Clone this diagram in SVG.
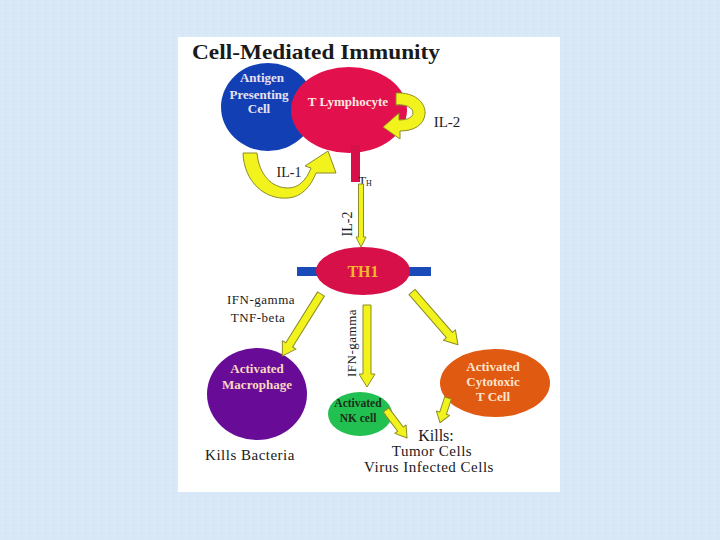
<svg xmlns="http://www.w3.org/2000/svg" width="720" height="540" viewBox="0 0 720 540">
<defs>
<style>
.t{font-family:"Liberation Serif","Times New Roman",serif;fill:#1a1a1a;text-anchor:middle}
.nb{font-family:"Liberation Serif","Times New Roman",serif;font-weight:bold;text-anchor:middle;font-size:13px}
.arr{fill:#f2f21c;stroke:#8c8c28;stroke-width:1;stroke-linejoin:round}
</style>
<pattern id="tex" width="8" height="8" patternUnits="userSpaceOnUse">
<rect width="8" height="8" fill="#d9e8f7"/>
<rect x="1" y="2" width="1" height="1" fill="#e9f2fb"/>
<rect x="5" y="5" width="1" height="1" fill="#c9dcf0"/>
<rect x="3" y="6" width="1" height="1" fill="#e6f0fa"/>
<rect x="6" y="1" width="1" height="1" fill="#cfe0f2"/>
</pattern>
</defs>
<rect width="720" height="540" fill="url(#tex)"/>
<rect x="178" y="37" width="382" height="455" fill="#ffffff"/>

<text class="t" x="316" y="59" font-size="22" font-weight="bold" textLength="248" lengthAdjust="spacingAndGlyphs" fill="#262626">Cell-Mediated Immunity</text>

<g id="apc">
<ellipse cx="268" cy="107" rx="47" ry="44" fill="#1240b4"/>
<text class="nb" x="262" y="82" fill="#e8e0f0">Antigen</text>
<text class="nb" x="259" y="99" fill="#e8e0f0">Presenting</text>
<text class="nb" x="259" y="113" fill="#e8e0f0">Cell</text>
</g>

<g id="tlymph">
<ellipse cx="349" cy="110" rx="58" ry="43" fill="#e2104c"/>
<rect x="351" y="145" width="9" height="37" fill="#d8104a"/>
<text class="nb" x="348" y="106" fill="#ffe8e0">T Lymphocyte</text>
<text class="t" x="365" y="185" font-size="13" text-anchor="start">T<tspan font-size="8" dy="1">H</tspan></text>
</g>

<g id="th1">
<rect x="297" y="267" width="134" height="9" fill="#1a4ab8"/>
<ellipse cx="363" cy="271" rx="47" ry="24" fill="#d8104a"/>
<text class="nb" x="363" y="277" fill="#f2b82a" style="font-size:16px">TH1</text>
</g>

<g id="macrophage">
<ellipse cx="257" cy="394" rx="50" ry="46" fill="#680c98"/>
<text class="nb" x="257" y="373" fill="#f8d8c0">Activated</text>
<text class="nb" x="257" y="389" fill="#f8d8c0">Macrophage</text>
</g>

<g id="nk">
<ellipse cx="360" cy="414" rx="32" ry="22" fill="#22c050"/>
<text class="nb" x="358" y="407" fill="#183018" style="font-size:11.5px">Activated</text>
<text class="nb" x="358" y="422" fill="#183018" style="font-size:11.5px">NK cell</text>
</g>

<g id="ctl">
<ellipse cx="495" cy="383" rx="55" ry="34" fill="#e05a12"/>
<text class="nb" x="493" y="371" fill="#ffe4cc">Activated</text>
<text class="nb" x="493" y="386" fill="#ffe4cc">Cytotoxic</text>
<text class="nb" x="493" y="401" fill="#ffe4cc">T Cell</text>
</g>

<g id="connectors">
<path class="arr" d="M243,153 C244,182 265,200 288,198 C302,197 311,186 316,173 L336,173 L328,151 L305,166 L311,168 C306,181 298,188 288,188 C272,188 259,175 257,153 Z"/>
<path class="arr" d="M396,93 C414,92 426,102 425,114 C424,125 414,131 400,131 L400,139 L383,127 L399,113 L399,120 C408,120 413,117 413,113 C413,108 407,104 396,105 Z"/>
<path class="arr" transform="translate(361,184) rotate(90)" d="M0,-2.5 H53 V-5 L63,0 L53,5 V2.5 H0 Z"/>
<path class="arr" transform="translate(321,294) rotate(122)" d="M0,-4 H60 V-8 L73,0 L60,8 V4 H0 Z"/>
<path class="arr" transform="translate(367,305) rotate(90)" d="M0,-4 H69 V-8 L82,0 L69,8 V4 H0 Z"/>
<path class="arr" transform="translate(412,292) rotate(49)" d="M0,-4 H57 V-8 L70,0 L57,8 V4 H0 Z"/>
<path class="arr" transform="translate(386,410) rotate(53)" d="M0,-3.5 H24 V-7 L35,0 L24,7 V3.5 H0 Z"/>
<path class="arr" transform="translate(448,398) rotate(108)" d="M0,-3.5 H16 V-7 L26,0 L16,7 V3.5 H0 Z"/>
</g>

<g id="labels">
<text class="t" x="289" y="177" font-size="14">IL-1</text>
<text class="t" x="447" y="127" font-size="15">IL-2</text>
<text class="t" font-size="14" transform="translate(352,224) rotate(-90)">IL-2</text>
<text class="t" x="261" y="304" font-size="13" letter-spacing="0.5">IFN-gamma</text>
<text class="t" x="258" y="322" font-size="13" letter-spacing="0.5">TNF-beta</text>
<text class="t" font-size="13" letter-spacing="0.5" transform="translate(356,343) rotate(-90)">IFN-gamma</text>
<text class="t" x="250" y="460" font-size="15" letter-spacing="0.5">Kills Bacteria</text>
<text class="t" x="436" y="441" font-size="16">Kills:</text>
<text class="t" x="432" y="456" font-size="15" letter-spacing="0.5">Tumor Cells</text>
<text class="t" x="429" y="472" font-size="15" letter-spacing="0.5">Virus Infected Cells</text>
</g>
</svg>
